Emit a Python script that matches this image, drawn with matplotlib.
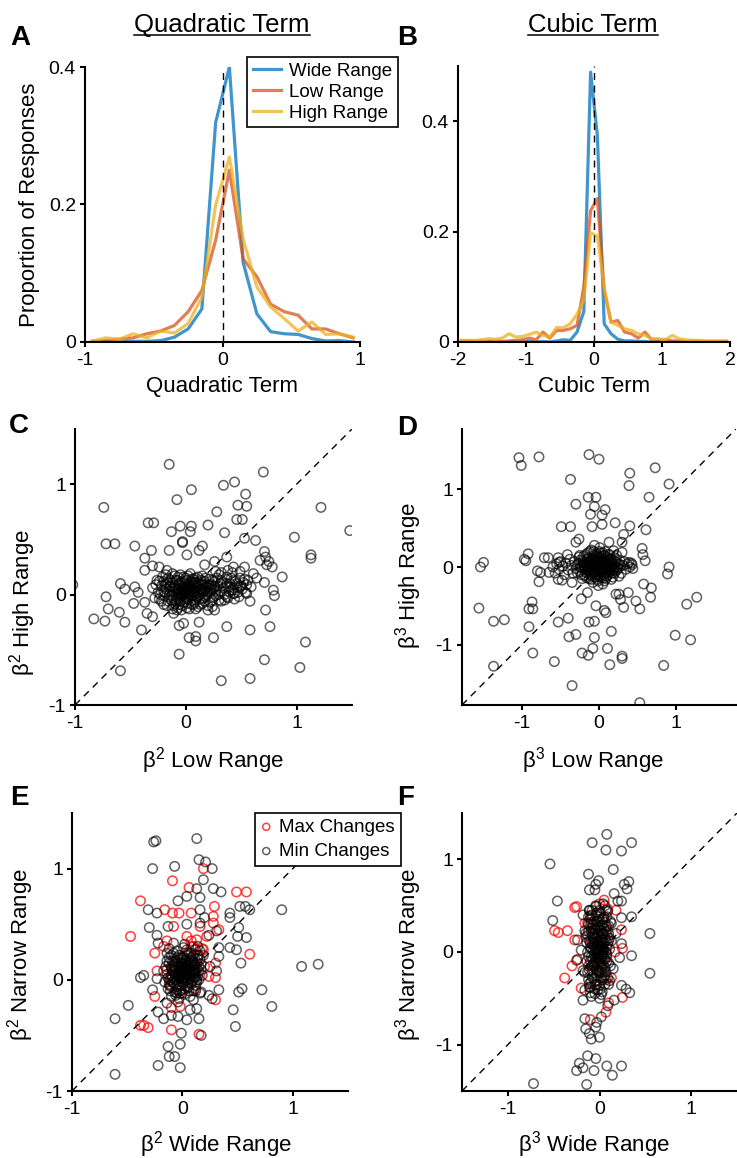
import numpy as np
import matplotlib
matplotlib.use("Agg")
import matplotlib.pyplot as plt
from matplotlib.lines import Line2D

params = {'font.family': ['Liberation Sans', 'DejaVu Sans'],
          'mathtext.fontset': 'custom',
          'mathtext.rm': 'Liberation Sans',
          'mathtext.it': 'Liberation Sans:italic',
          'axes.linewidth': 1.5,
          'xtick.labelsize': 14,
          'ytick.labelsize': 14,
          'xtick.direction': 'out',
          'ytick.direction': 'out',
          'xtick.major.size': 3.5,
          'ytick.major.size': 3.5,
          'xtick.major.width': 1.5,
          'ytick.major.width': 1.5,
          'xtick.major.pad': 4,
          'ytick.major.pad': 3,
          'axes.labelsize': 16}
plt.rcParams.update(params)

# ---- histogram data (proportion of responses per bin) ----
quad_bins = [-0.95, -0.85, -0.75, -0.65, -0.55, -0.45, -0.35, -0.25, -0.15, -0.05,
             0.05, 0.15, 0.25, 0.35, 0.45, 0.55, 0.65, 0.75, 0.85, 0.95]
quad_wide = [0.0, 0.001, 0.0, 0.001, 0.001, 0.002, 0.007, 0.019, 0.048, 0.319,
             0.40, 0.116, 0.041, 0.015, 0.012, 0.011, 0.005, 0.0015, 0.002, 0.0]
quad_low = [0.001, 0.002, 0.004, 0.006, 0.012, 0.016, 0.024, 0.044, 0.075, 0.148,
            0.25, 0.121, 0.095, 0.055, 0.044, 0.039, 0.019, 0.019, 0.012, 0.006]
quad_high = [0.001, 0.006, 0.004, 0.012, 0.006, 0.016, 0.013, 0.027, 0.065, 0.199,
             0.269, 0.150, 0.080, 0.051, 0.034, 0.016, 0.029, 0.011, 0.012, 0.007]

cub_bins = [-1.95, -1.85, -1.75, -1.65, -1.55, -1.45, -1.35, -1.25, -1.15, -1.05,
            -0.95, -0.85, -0.75, -0.65, -0.55, -0.45, -0.35, -0.25, -0.15, -0.05,
            0.05, 0.15, 0.25, 0.35, 0.45, 0.55, 0.65, 0.75, 0.85, 0.95,
            1.05, 1.15, 1.25, 1.35, 1.45, 1.55, 1.65, 1.75, 1.85, 1.95]
cub_wide = [0.0, 0.0, 0.0, 0.0, 0.001, 0.0, 0.0, 0.0, 0.0, 0.0,
            0.001, 0.0, 0.001, 0.0, 0.002, 0.004, 0.003, 0.018, 0.055, 0.489,
            0.373, 0.033, 0.015, 0.005, 0.002, 0.002, 0.001, 0.001, 0.0, 0.001,
            0.0, 0.0, 0.0, 0.0, 0.0, 0.0, 0.0, 0.0, 0.0, 0.0]
cub_low = [0.002, 0.002, 0.001, 0.002, 0.001, 0.002, 0.001, 0.002, 0.003, 0.004,
           0.007, 0.004, 0.018, 0.007, 0.021, 0.021, 0.024, 0.030, 0.100, 0.238,
           0.260, 0.094, 0.036, 0.039, 0.018, 0.015, 0.007, 0.018, 0.004, 0.003,
           0.004, 0.002, 0.002, 0.001, 0.002, 0.001, 0.001, 0.001, 0.001, 0.001]
cub_high = [0.003, 0.003, 0.003, 0.004, 0.006, 0.005, 0.007, 0.015, 0.009, 0.010,
            0.014, 0.018, 0.012, 0.009, 0.026, 0.026, 0.033, 0.050, 0.076, 0.198,
            0.192, 0.097, 0.036, 0.030, 0.024, 0.021, 0.015, 0.012, 0.006, 0.006,
            0.004, 0.012, 0.006, 0.004, 0.003, 0.003, 0.002, 0.002, 0.002, 0.002]

# ---- scatter data: (x, y) per neuron ----
c_pts = [(-0.15, 1.18), (0.70, 1.11), (-0.74, 0.79), (0.05, 0.95), (-0.08, 0.86), (0.34, 0.99),
         (0.44, 1.02), (0.54, 0.91), (0.47, 0.81), (0.55, 0.80), (1.22, 0.79), (1.48, 0.58),
         (0.98, 0.52), (1.13, 0.36), (1.13, 0.33), (0.28, 0.75), (0.20, 0.63), (0.35, 0.56),
         (0.46, 0.68), (0.51, 0.68), (0.53, 0.51), (0.63, 0.49), (0.05, 0.62), (0.04, 0.57),
         (-0.05, 0.62), (-0.13, 0.57), (-0.34, 0.65), (-0.29, 0.65), (-0.72, 0.46), (-0.64, 0.46),
         (-0.46, 0.44), (-0.03, 0.47), (-0.03, 0.48), (0.15, 0.44), (0.12, 0.40), (-0.15, 0.40),
         (-0.31, 0.40), (-0.37, 0.33), (-0.30, 0.26), (-0.37, 0.22), (0.01, 0.36), (0.26, 0.30),
         (0.37, 0.34), (0.71, 0.39), (0.72, 0.34), (0.75, 0.30), (0.67, 0.31), (0.73, 0.27),
         (0.78, 0.25), (0.87, 0.16), (0.79, 0.04), (0.80, -0.01), (0.71, 0.11), (0.72, -0.14),
         (0.58, -0.06), (-1.02, 0.09), (-0.59, 0.10), (-0.55, 0.05), (-0.72, -0.02), (-0.70, -0.13),
         (-0.83, -0.22), (-0.73, -0.24), (-0.60, -0.16), (-0.55, -0.25), (-0.59, -0.69), (-0.40, -0.32),
         (-0.06, -0.54), (0.03, -0.39), (0.09, -0.38), (0.09, -0.42), (0.25, -0.39), (0.12, -0.25),
         (0.37, -0.29), (0.58, -0.32), (0.76, -0.29), (0.71, -0.59), (0.32, -0.78), (0.58, -0.76),
         (1.03, -0.66), (1.08, -0.43), (-0.06, -0.28), (-0.02, -0.26), (-0.11, -0.17), (0.20, -0.14),
         (0.26, -0.14), (-0.46, 0.07), (-0.43, 0.02), (-0.47, -0.08), (-0.37, -0.07), (-0.35, -0.17),
         (-0.30, -0.20), (-0.24, 0.25), (-0.24, 0.12), (-0.17, 0.22), (0.17, 0.27), (0.27, 0.21),
         (0.38, 0.22), (0.43, 0.25), (0.49, 0.21), (0.53, 0.25), (0.61, 0.19), (0.56, 0.13),
         (0.59, 0.07), (0.49, 0.07), (0.43, 0.01), (0.37, -0.02), (0.30, -0.05), (0.24, -0.11),
         (0.43, 0.13), (0.32, 0.13), (0.23, 0.08), (0.40, 0.07), (0.64, 0.15), (0.55, 0.01),
         (-0.25, 0.02), (-0.22, 0.08), (-0.22, -0.06), (-0.20, 0.12), (-0.19, -0.01), (-0.18, 0.05),
         (-0.17, -0.10), (-0.16, 0.15), (-0.15, 0.00), (-0.14, 0.08), (-0.13, -0.05), (-0.12, 0.11),
         (-0.12, -0.13), (-0.11, 0.03), (-0.10, 0.17), (-0.10, -0.08), (-0.09, 0.06), (-0.08, -0.02),
         (-0.08, 0.13), (-0.07, -0.12), (-0.06, 0.02), (-0.06, 0.09), (-0.05, -0.06), (-0.05, 0.18),
         (-0.04, 0.04), (-0.03, -0.10), (-0.03, 0.12), (-0.02, 0.00), (-0.02, 0.07), (-0.01, -0.04),
         (0.00, 0.03), (0.00, 0.15), (0.01, -0.08), (0.01, 0.10), (0.02, 0.01), (0.03, -0.13),
         (0.03, 0.06), (0.04, 0.19), (0.05, -0.03), (0.05, 0.12), (0.06, 0.04), (0.07, -0.09),
         (0.07, 0.08), (0.08, 0.00), (0.09, 0.15), (0.09, -0.05), (0.10, 0.06), (0.11, -0.11),
         (0.11, 0.11), (0.12, 0.02), (0.13, -0.04), (0.14, 0.09), (0.15, 0.17), (0.15, -0.08),
         (0.16, 0.03), (0.17, 0.12), (0.18, -0.02), (0.19, 0.07), (0.20, -0.10), (0.21, 0.14),
         (0.22, 0.02), (0.23, 0.09), (0.24, -0.05), (0.25, 0.05), (0.26, 0.12), (0.27, -0.01),
         (0.29, 0.08), (0.30, 0.18), (0.31, 0.03), (0.32, -0.06), (0.33, 0.11), (0.35, 0.00),
         (0.36, 0.07), (0.37, 0.16), (0.38, -0.03), (0.40, 0.10), (0.41, 0.04), (0.42, 0.20),
         (0.44, 0.01), (0.45, 0.12), (0.46, 0.07), (0.48, -0.02), (0.49, 0.15), (0.51, 0.05),
         (0.52, 0.11), (0.54, 0.02), (0.55, 0.09), (-0.30, 0.06), (-0.28, -0.03), (-0.26, 0.13),
         (-0.01, 0.01), (0.02, 0.05), (-0.04, -0.01), (0.04, 0.00), (-0.07, 0.05), (0.06, -0.01),
         (0.00, -0.02), (-0.02, 0.04), (0.03, 0.02), (0.08, 0.04), (-0.09, 0.00), (0.10, 0.01),
         (-0.05, 0.08), (0.05, 0.07), (-0.11, -0.03), (0.12, -0.01), (-0.03, 0.06), (0.01, 0.13),
         (-0.06, -0.09), (0.07, 0.14), (-0.14, 0.03), (0.14, 0.04), (-0.18, 0.09), (0.18, 0.05),
         (-0.20, 0.03), (0.20, 0.03), (-0.08, -0.14), (0.09, -0.13), (-0.12, 0.06), (0.16, -0.03)]
c_dense = [(-0.27, 0.09), (-0.24, -0.04), (-0.21, 0.16), (-0.19, 0.02), (-0.17, 0.11), (-0.16, -0.06),
           (-0.14, 0.13), (-0.13, -0.01), (-0.12, 0.19), (-0.11, -0.10), (-0.10, 0.08), (-0.09, -0.06),
           (-0.08, 0.04), (-0.07, 0.16), (-0.06, -0.04), (-0.05, 0.11), (-0.04, -0.14), (-0.03, 0.02),
           (-0.02, 0.16), (-0.01, -0.07), (0.00, 0.08), (0.01, -0.12), (0.02, 0.17), (0.03, -0.02),
           (0.04, 0.09), (0.05, -0.09), (0.06, 0.14), (0.07, 0.02), (0.08, -0.07), (0.09, 0.11),
           (0.10, -0.02), (0.11, 0.16), (0.12, 0.07), (0.13, -0.09), (0.14, 0.13), (0.15, 0.02),
           (0.16, 0.09), (0.17, -0.06), (0.18, 0.15), (0.19, 0.00), (0.21, 0.08), (0.22, -0.07),
           (0.24, 0.13), (0.25, -0.02), (0.26, 0.07), (0.28, 0.15), (0.29, 0.00), (0.31, 0.10),
           (0.32, 0.20), (0.34, 0.06), (0.35, -0.05), (0.37, 0.10), (0.39, 0.03), (0.41, 0.15),
           (0.43, 0.06), (0.44, -0.04), (0.46, 0.10), (0.47, 0.02), (0.50, 0.08), (0.53, 0.14),
           (-0.23, 0.00), (-0.20, -0.09), (-0.18, 0.18), (-0.15, 0.07), (-0.09, 0.13), (-0.06, 0.05),
           (-0.01, 0.05), (0.02, -0.04), (0.06, 0.10), (0.10, 0.09), (0.13, 0.05), (0.17, 0.04),
           (0.20, 0.09), (0.23, 0.04), (-0.04, 0.00), (0.00, 0.06), (0.04, 0.03), (-0.07, 0.01),
           (0.08, 0.11), (0.27, 0.04)]

d_pts = [(-1.04, 1.41), (-1.01, 1.31), (-0.78, 1.42), (-0.13, 1.45), (0.00, 1.39), (0.73, 1.28),
         (0.40, 1.21), (0.39, 1.05), (0.91, 1.07), (-0.37, 1.13), (0.65, 0.90), (-0.14, 0.90),
         (-0.04, 0.90), (-0.30, 0.81), (-0.06, 0.78), (0.08, 0.74), (0.04, 0.67), (-0.11, 0.68),
         (0.21, 0.57), (0.04, 0.55), (-0.49, 0.52), (-0.37, 0.52), (-0.09, 0.52), (0.40, 0.53),
         (0.61, 0.48), (0.32, 0.42), (0.30, 0.32), (-0.26, 0.36), (-0.30, 0.32), (0.56, 0.24),
         (0.57, 0.16), (0.60, 0.08), (-0.92, 0.17), (-0.97, 0.10), (-0.95, 0.08), (-0.71, 0.12),
         (-0.66, 0.12), (-0.53, 0.12), (-1.50, 0.06), (-1.54, 0.00), (-1.56, -0.53), (-1.37, -0.70),
         (-1.23, -0.68), (-1.37, -1.28), (-0.86, -1.11), (-0.91, -0.77), (-0.87, -0.45), (-0.86, -0.54),
         (-0.91, -0.54), (-0.58, -1.22), (-0.35, -1.53), (0.53, -1.75), (-0.39, -0.90), (-0.40, -0.66),
         (-0.53, -0.71), (-0.30, -0.87), (-0.22, -1.11), (-0.14, -1.14), (-0.08, -1.05), (-0.06, -0.91),
         (-0.13, -0.71), (-0.06, -0.70), (0.11, -1.05), (0.14, -1.26), (0.16, -0.83), (0.09, -0.59),
         (0.07, -0.56), (0.30, -1.18), (0.30, -1.15), (0.84, -1.27), (0.99, -0.88), (1.19, -0.94),
         (1.14, -0.48), (1.27, -0.39), (0.91, 0.00), (0.89, -0.09), (0.58, -0.22), (0.68, -0.27),
         (0.67, -0.39), (0.48, -0.44), (0.53, -0.54), (0.32, -0.52), (0.28, -0.42), (0.22, -0.35),
         (0.38, -0.33), (0.26, -0.35), (-0.23, -0.41), (-0.15, -0.33), (-0.04, -0.50), (-0.35, -0.20),
         (-0.48, -0.17), (-0.53, -0.16), (-0.78, -0.19), (-0.76, -0.07), (-0.80, -0.05), (-0.65, -0.07),
         (-0.52, 0.06), (-0.41, 0.16), (0.43, 0.03), (0.39, 0.06), (0.30, 0.19), (0.19, 0.21),
         (0.13, 0.32),
         (-0.28, 0.03), (-0.25, -0.06), (-0.24, 0.09), (-0.22, -0.01), (-0.20, 0.14), (-0.19, -0.11),
         (-0.18, 0.05), (-0.16, -0.04), (-0.15, 0.18), (-0.14, 0.00), (-0.13, -0.15), (-0.12, 0.08),
         (-0.11, -0.07), (-0.10, 0.22), (-0.09, 0.03), (-0.08, -0.20), (-0.07, 0.12), (-0.06, -0.02),
         (-0.05, 0.06), (-0.04, -0.10), (-0.03, 0.17), (-0.02, 0.01), (-0.01, -0.24), (0.00, 0.09),
         (0.00, -0.05), (0.01, 0.25), (0.02, 0.02), (0.03, -0.13), (0.04, 0.14), (0.05, -0.03),
         (0.06, 0.06), (0.07, -0.18), (0.08, 0.20), (0.09, -0.06), (0.10, 0.04), (0.11, 0.11),
         (0.12, -0.10), (0.13, 0.00), (0.14, 0.16), (0.15, -0.04), (0.16, 0.07), (0.18, -0.13),
         (0.19, 0.03), (0.20, 0.12), (0.22, -0.05), (0.23, 0.06), (0.25, -0.01), (0.27, 0.09),
         (0.29, -0.08), (0.31, 0.02), (0.33, 0.07), (0.35, -0.03), (0.37, 0.04), (0.40, 0.00),
         (0.42, 0.05), (0.44, -0.02), (-0.30, -0.02), (-0.32, 0.07), (-0.34, -0.08), (-0.36, 0.02),
         (-0.38, 0.10), (-0.40, -0.04), (-0.43, 0.05), (-0.45, -0.10), (-0.47, 0.01), (-0.50, 0.07),
         (-0.52, -0.03), (-0.55, 0.04), (-0.57, -0.08), (-0.60, 0.00), (-0.01, 0.02), (0.01, -0.01),
         (-0.03, -0.03), (0.03, 0.03), (0.00, 0.00), (-0.05, 0.02), (0.05, 0.01), (-0.02, 0.05),
         (0.02, -0.06), (-0.06, -0.06), (0.06, -0.09), (-0.08, 0.08), (0.08, 0.09), (-0.10, -0.01),
         (0.10, -0.02), (-0.04, 0.10), (0.04, -0.08), (-0.07, 0.15), (0.07, 0.15), (-0.12, 0.02),
         (0.12, 0.05), (-0.09, -0.12), (0.09, -0.15), (-0.15, 0.10), (0.15, 0.10), (-0.17, -0.07),
         (0.17, -0.08), (-0.02, -0.16), (0.02, 0.18), (-0.06, 0.28), (0.05, -0.22), (0.00, 0.13),
         (-0.11, 0.05), (0.11, 0.00), (-0.14, -0.03), (0.14, -0.01), (-0.20, 0.02), (0.21, 0.00),
         (-0.26, 0.13), (0.26, -0.12)]
d_dense = [(-0.26, 0.05), (-0.23, -0.10), (-0.21, 0.08), (-0.19, 0.00), (-0.17, 0.16), (-0.16, -0.14),
           (-0.14, 0.06), (-0.13, -0.05), (-0.12, 0.20), (-0.11, 0.01), (-0.10, -0.16), (-0.09, 0.10),
           (-0.08, -0.05), (-0.07, 0.20), (-0.06, 0.04), (-0.05, -0.13), (-0.04, 0.14), (-0.03, -0.06),
           (-0.02, 0.09), (-0.01, -0.18), (0.00, 0.20), (0.01, 0.04), (0.02, -0.11), (0.03, 0.11),
           (0.04, 0.00), (0.05, 0.18), (0.06, -0.14), (0.07, 0.05), (0.08, -0.03), (0.09, 0.13),
           (0.10, -0.12), (0.11, 0.06), (0.12, 0.16), (0.13, -0.07), (0.14, 0.04), (0.16, -0.16),
           (0.17, 0.10), (0.18, 0.00), (0.20, -0.08), (0.21, 0.07), (0.23, 0.15), (0.24, -0.03),
           (0.26, 0.04), (-0.28, -0.08), (-0.25, 0.15), (-0.22, -0.15), (-0.20, 0.06), (-0.18, -0.02),
           (-0.15, 0.03), (0.16, 0.01), (-0.03, 0.03), (0.03, -0.03), (-0.01, 0.07), (0.01, -0.07),
           (0.06, 0.03), (-0.06, -0.02), (0.00, 0.04), (-0.04, 0.02), (0.04, 0.07), (0.02, 0.12),
           (-0.02, -0.09), (-0.09, 0.05), (0.09, 0.02), (-0.11, -0.10), (0.11, -0.06), (-0.13, 0.12),
           (0.13, 0.09), (0.19, -0.04), (-0.24, 0.00), (0.28, 0.02)]

e_min = [(-0.26, 1.24), (-0.24, 1.25), (0.13, 1.27), (0.15, 1.08), (0.21, 1.06), (-0.07, 1.02),
         (-0.27, 1.00), (0.27, 1.00), (0.19, 0.90), (0.13, 0.82), (0.28, 0.82), (0.35, 0.79),
         (0.16, 0.74), (0.04, 0.75), (-0.04, 0.71), (-0.31, 0.63), (-0.23, 0.60), (0.43, 0.60),
         (0.43, 0.56), (0.52, 0.66), (0.57, 0.66), (0.61, 0.63), (0.90, 0.63), (0.51, 0.47),
         (0.50, 0.39), (0.58, 0.38), (0.43, 0.29), (0.49, 0.27), (0.53, 0.15), (0.33, 0.21),
         (1.08, 0.12), (1.23, 0.14), (-0.30, 0.47), (-0.23, 0.40), (-0.22, 0.33), (-0.13, 0.48),
         (-0.38, 0.02), (-0.35, 0.04), (-0.23, 0.01), (-0.27, -0.09), (0.33, -0.09), (0.24, -0.14),
         (0.27, -0.17), (0.51, -0.11), (0.54, -0.08), (0.72, -0.09), (0.81, -0.24), (0.46, -0.27),
         (0.48, -0.42), (-0.49, -0.23), (-0.61, -0.35), (-0.61, -0.85), (-0.22, -0.77), (-0.02, -0.79),
         (-0.13, -0.60), (-0.07, -0.69), (-0.12, -0.69), (-0.02, -0.58), (-0.01, -0.48), (0.17, -0.50),
         (0.15, -0.35), (0.04, -0.36), (-0.04, -0.33), (-0.10, -0.32), (-0.17, -0.35), (-0.22, -0.29),
         (-0.14, -0.21), (0.13, -0.26), (0.07, -0.27), (0.17, -0.11), (0.31, 0.08), (0.25, 0.12),
         (0.33, 0.29), (0.31, 0.44), (0.24, 0.40), (0.16, 0.51), (0.04, 0.50), (-0.14, 0.24),
         (-0.08, 0.33), (0.16, 0.63), (0.20, 0.56),
         (-0.14, 0.05), (-0.13, -0.08), (-0.12, 0.15), (-0.11, 0.00), (-0.10, 0.22), (-0.10, -0.15),
         (-0.09, 0.09), (-0.08, -0.03), (-0.07, 0.17), (-0.07, -0.11), (-0.06, 0.04), (-0.05, 0.26),
         (-0.05, -0.06), (-0.04, 0.12), (-0.03, -0.17), (-0.03, 0.01), (-0.02, 0.20), (-0.01, 0.07),
         (-0.01, -0.09), (0.00, 0.14), (0.00, -0.02), (0.01, 0.29), (0.02, 0.05), (0.02, -0.13),
         (0.03, 0.18), (0.04, 0.00), (0.04, 0.10), (0.05, -0.07), (0.06, 0.24), (0.06, 0.03),
         (0.07, 0.13), (0.08, -0.04), (0.08, 0.20), (0.09, 0.07), (0.10, -0.10), (0.10, 0.15),
         (0.11, 0.02), (0.12, 0.27), (0.12, -0.05), (0.13, 0.10), (0.14, 0.19), (0.15, 0.00),
         (0.15, 0.08), (0.16, -0.12), (0.17, 0.14), (0.18, 0.04), (-0.15, 0.12), (-0.16, -0.02),
         (-0.17, 0.08), (0.19, 0.22), (-0.02, 0.03), (0.02, 0.08), (0.00, 0.05), (0.03, 0.02),
         (-0.04, 0.06), (0.05, 0.11), (0.01, -0.03), (0.06, 0.06), (-0.06, 0.10), (0.07, 0.01),
         (-0.01, 0.16), (0.09, 0.12), (0.03, -0.06), (-0.08, 0.13), (0.11, 0.09), (0.04, 0.22),
         (-0.03, 0.09), (0.08, 0.04), (0.00, 0.10), (0.05, 0.16), (-0.09, 0.02), (0.12, 0.06),
         (-0.05, -0.12), (0.07, -0.15), (0.02, 0.32), (-0.12, 0.28), (0.14, 0.30), (-0.04, -0.20),
         (0.10, -0.18), (0.16, 0.18), (-0.11, -0.05), (0.13, -0.02), (0.01, 0.12), (-0.02, -0.05),
         (0.04, 0.05), (0.07, 0.18), (-0.07, 0.06), (0.10, 0.03), (0.02, 0.15), (-0.05, 0.00)]
e_dense = [(-0.13, 0.02), (-0.12, 0.20), (-0.11, -0.10), (-0.10, 0.12), (-0.09, -0.02), (-0.08, 0.24),
           (-0.07, 0.00), (-0.06, 0.17), (-0.05, -0.09), (-0.04, 0.03), (-0.03, 0.22), (-0.02, -0.10),
           (-0.01, 0.12), (0.00, 0.01), (0.01, 0.20), (0.02, -0.08), (0.03, 0.08), (0.04, 0.27),
           (0.05, 0.03), (0.06, -0.10), (0.07, 0.09), (0.08, 0.16), (0.09, -0.01), (0.10, 0.22),
           (0.11, 0.06), (0.12, -0.10), (0.13, 0.15), (0.14, 0.04), (0.15, 0.12), (0.16, 0.26),
           (-0.14, 0.17), (-0.12, -0.04), (-0.08, 0.07), (-0.03, 0.15), (0.01, 0.02), (0.05, 0.14),
           (0.09, 0.18), (0.13, 0.00), (0.17, 0.09), (-0.06, -0.14), (0.02, 0.11), (-0.01, 0.04),
           (0.03, -0.01), (0.06, 0.09), (-0.03, 0.05), (0.00, 0.18), (0.07, 0.04), (0.11, 0.13),
           (-0.10, 0.04), (0.04, 0.14), (-0.05, 0.20), (0.08, 0.24), (0.00, -0.12), (-0.09, 0.16),
           (0.14, 0.22), (0.12, 0.02), (-0.02, 0.08), (0.05, -0.03), (0.09, 0.07), (-0.07, 0.11)]

e_max = [(-0.09, 0.89), (0.19, 1.00), (0.06, 0.83), (-0.38, 0.71), (-0.16, 0.63), (-0.09, 0.60),
         (-0.03, 0.60), (0.08, 0.60), (0.29, 0.66), (0.28, 0.57), (0.49, 0.79), (0.58, 0.79),
         (-0.47, 0.39), (-0.08, 0.48), (0.16, 0.48), (0.33, 0.45), (0.28, 0.51), (0.61, 0.23),
         (-0.25, 0.24), (-0.17, 0.30), (-0.14, 0.35), (-0.23, 0.08), (-0.25, -0.15), (0.30, -0.18),
         (0.30, 0.02), (0.30, 0.15), (-0.38, -0.41), (-0.35, -0.41), (-0.31, -0.43), (-0.10, -0.45),
         (0.15, -0.49), (-0.10, -0.25), (-0.02, -0.24), (0.19, 0.27), (0.13, 0.36), (0.22, 0.39),
         (0.04, 0.39), (0.08, 0.30), (0.11, 0.09), (0.24, 0.03), (-0.11, -0.06), (-0.14, 0.09),
         (0.00, 0.20), (0.05, 0.25), (-0.05, 0.15), (0.10, 0.30), (0.15, 0.22), (-0.10, 0.10),
         (0.12, -0.08), (-0.02, -0.12), (0.20, 0.12), (0.08, 0.35), (-0.12, 0.00), (0.18, 0.28)]

f_min = [(0.08, 1.27), (-0.08, 1.18), (0.35, 1.18), (0.07, 1.10), (0.24, 1.09), (-0.54, 0.95),
         (0.15, 0.89), (-0.12, 0.84), (-0.01, 0.77), (-0.04, 0.73), (-0.11, 0.67), (-0.05, 0.67),
         (0.32, 0.76), (0.27, 0.73), (0.30, 0.68), (0.16, 0.63), (0.20, 0.55), (0.24, 0.55),
         (-0.46, 0.55), (-0.51, 0.34), (0.35, 0.38), (0.24, 0.37), (0.55, 0.20), (0.55, -0.23),
         (0.35, -0.04), (0.22, -0.06), (0.24, -0.36), (0.29, -0.40), (0.33, -0.44), (0.16, -0.52),
         (0.09, -0.58), (-0.18, -0.52), (0.00, -0.50), (-0.16, -0.72), (0.02, -0.70), (-0.03, -0.76),
         (-0.04, -0.81), (-0.15, -0.83), (-0.11, -0.88), (0.00, -0.92), (-0.09, -0.94), (-0.13, -1.12),
         (-0.04, -1.15), (-0.22, -1.20), (-0.18, -1.25), (-0.25, -1.28), (-0.06, -1.28), (0.08, -1.23),
         (0.24, -1.23), (0.14, -1.33), (-0.14, -1.43), (-0.72, -1.42), (-0.20, 0.02), (-0.24, 0.13),
         (-0.25, -0.09), (-0.18, -0.20), (0.24, 0.09), (0.18, 0.20), (0.13, 0.31), (0.04, 0.52),
         (-0.04, 0.49), (-0.11, 0.45), (-0.18, 0.40), (-0.16, 0.23), (-0.16, -0.41), (-0.11, -0.34),
         (0.11, -0.31), (0.15, -0.18),
         (-0.12, 0.30), (-0.11, -0.20), (-0.10, 0.10), (-0.10, -0.38), (-0.09, 0.22), (-0.09, -0.05),
         (-0.08, 0.40), (-0.08, -0.27), (-0.07, 0.02), (-0.07, 0.15), (-0.06, -0.12), (-0.06, 0.33),
         (-0.05, -0.32), (-0.05, 0.07), (-0.04, 0.25), (-0.04, -0.18), (-0.03, -0.02), (-0.03, 0.42),
         (-0.02, 0.12), (-0.02, -0.41), (-0.01, 0.19), (-0.01, -0.08), (0.00, 0.35), (0.00, 0.03),
         (0.01, -0.22), (0.01, 0.28), (0.02, -0.03), (0.02, 0.10), (0.03, -0.30), (0.03, 0.20),
         (0.04, 0.05), (0.04, -0.14), (0.05, 0.38), (0.05, -0.06), (0.06, 0.15), (0.06, -0.25),
         (0.07, 0.00), (0.08, 0.27), (0.08, -0.10), (0.09, 0.09), (-0.13, 0.00), (-0.13, 0.18),
         (-0.14, -0.10), (0.10, -0.35), (0.10, 0.20), (-0.11, 0.45), (0.09, 0.44), (-0.12, -0.30),
         (0.11, 0.03), (-0.05, -0.45), (-0.02, 0.00), (0.00, -0.02), (-0.03, 0.05), (0.01, 0.06),
         (-0.04, -0.06), (0.02, -0.10), (-0.01, 0.10), (-0.05, 0.14), (0.03, 0.13), (-0.06, -0.02),
         (0.04, -0.04), (-0.02, -0.13), (0.00, 0.17), (-0.07, 0.08), (0.05, 0.02), (-0.03, -0.20),
         (0.02, 0.23), (-0.08, -0.15), (0.06, -0.17), (-0.04, 0.30), (0.01, -0.28), (-0.09, 0.26),
         (0.07, 0.22), (-0.01, 0.38), (0.00, -0.36), (-0.06, 0.20), (0.03, -0.22), (-0.10, 0.05),
         (0.08, 0.06), (-0.02, 0.27), (0.12, -0.15), (-0.15, 0.20), (0.13, 0.12), (-0.16, -0.22),
         (0.12, 0.33), (-0.04, 0.50), (0.02, -0.46), (-0.09, -0.48), (0.06, 0.50), (-0.12, 0.38)]
f_dense = [(-0.11, 0.12), (-0.10, -0.10), (-0.10, 0.36), (-0.09, -0.32), (-0.09, 0.04), (-0.08, 0.19),
           (-0.08, -0.20), (-0.07, 0.30), (-0.07, -0.07), (-0.06, 0.10), (-0.06, -0.28), (-0.05, 0.25),
           (-0.05, -0.15), (-0.04, 0.40), (-0.04, 0.01), (-0.03, -0.35), (-0.03, 0.16), (-0.02, -0.05),
           (-0.02, 0.33), (-0.01, -0.22), (-0.01, 0.04), (0.00, 0.24), (0.00, -0.12), (0.01, 0.42),
           (0.01, -0.40), (0.02, 0.06), (0.02, 0.16), (0.03, -0.17), (0.03, 0.29), (0.04, -0.01),
           (0.04, 0.20), (0.05, -0.28), (0.05, 0.10), (0.06, 0.32), (0.06, -0.08), (0.07, 0.13),
           (0.07, -0.21), (0.08, 0.38), (0.08, -0.02), (0.09, -0.28), (-0.12, -0.05), (-0.12, 0.22),
           (-0.13, -0.22), (-0.11, -0.38), (0.10, 0.28), (0.10, -0.12), (-0.14, 0.10), (0.11, 0.15),
           (-0.05, 0.03), (-0.01, -0.01), (-0.03, 0.08), (0.00, 0.07), (-0.04, -0.10), (0.02, -0.06),
           (-0.06, 0.16), (0.03, 0.03), (-0.02, 0.20), (0.01, -0.15), (-0.07, -0.14), (0.05, 0.25),
           (-0.08, 0.45), (0.03, -0.43), (-0.10, -0.44), (0.07, 0.45), (-0.03, -0.26), (0.04, 0.36),
           (-0.09, 0.32), (0.06, -0.35), (-0.05, -0.40), (0.00, 0.45)]

f_max = [(-0.25, 0.49), (-0.27, 0.48), (0.05, 0.56), (0.00, 0.52), (0.18, 0.45), (0.09, 0.46),
         (-0.10, 0.39), (-0.16, 0.31), (-0.49, 0.23), (-0.45, 0.21), (-0.35, 0.23), (-0.27, 0.13),
         (0.24, 0.24), (0.25, 0.04), (0.17, 0.00), (-0.30, -0.15), (-0.38, -0.28), (-0.20, -0.39),
         (0.13, -0.28), (0.25, -0.49), (0.07, -0.65), (0.10, -0.55), (-0.10, -0.73), (-0.24, -0.08),
         (-0.15, 0.16), (0.04, 0.02), (-0.04, -0.13), (0.07, 0.27), (-0.13, 0.31),
         (0.05, 0.20), (-0.08, 0.10), (0.00, -0.20), (0.08, -0.05), (-0.10, 0.30), (0.03, 0.35),
         (-0.05, -0.35), (0.10, 0.12), (-0.12, -0.15), (0.07, -0.30)]

blue, orange, yellow = '#0072BD', '#D95319', '#EDB120'
ring = (0, 0, 0, 0.62)
red_ring = (1, 0, 0, 0.75)
W, H = 737, 1158

fig = plt.figure(figsize=(W / 100, H / 100), dpi=100)


def add_ax(l, t, r, b):
    return fig.add_axes([l / W, 1 - b / H, (r - l) / W, (b - t) / H])


def clean(ax, lim_x, lim_y, ticks_x, ticks_y):
    ax.spines['top'].set_visible(False)
    ax.spines['right'].set_visible(False)
    ax.set_xlim(lim_x)
    ax.set_ylim(lim_y)
    ax.set_xticks(ticks_x)
    ax.set_yticks(ticks_y)
    ax.set_xticklabels([f"{t:g}" for t in ticks_x])
    ax.set_yticklabels([f"{t:g}" for t in ticks_y])


def scatter_panel(ax, pts, color=ring, label=None):
    x, y = np.array(pts).T
    ax.scatter(x, y, s=46, facecolors='none', edgecolors=[color], linewidths=1.1, label=label)


def diag(ax, lo, hi):
    ax.plot([lo, hi], [lo, hi], color='k', lw=1, dashes=(5, 4))


legend_kw = dict(bbox_transform=fig.transFigure, loc='upper left', fontsize=13.5, fancybox=False,
                 edgecolor='k', framealpha=1, borderpad=0.3, borderaxespad=0)

# A: quadratic histograms
axA = add_ax(85, 67, 360, 342)
axA.plot(quad_bins, quad_wide, color=blue, lw=2.3, alpha=0.75, label='Wide Range')
axA.plot(quad_bins, quad_low, color=orange, lw=2.3, alpha=0.75, label='Low Range')
axA.plot(quad_bins, quad_high, color=yellow, lw=2.3, alpha=0.75, label='High Range')
axA.plot([0, 0], [0, 0.4], color='k', lw=1, dashes=(5, 4))
clean(axA, (-1, 1), (0, 0.4), [-1, 0, 1], [0, 0.2, 0.4])
axA.set_xlabel('Quadratic Term')
axA.set_ylabel('Proportion of Responses')
axA.xaxis.set_label_coords(0.5, -0.125)
axA.yaxis.set_label_coords(-0.165, 0.5)
leg = axA.legend(bbox_to_anchor=(247 / W, 1 - 57 / H), labelspacing=0.2, handlelength=1.5,
                 handletextpad=0.45, **legend_kw)
leg.get_frame().set_linewidth(1.2)

# B: cubic histograms
axB = add_ax(458, 66, 730, 342)
axB.plot(cub_bins, cub_wide, color=blue, lw=2.3, alpha=0.75)
axB.plot(cub_bins, cub_low, color=orange, lw=2.3, alpha=0.75)
axB.plot(cub_bins, cub_high, color=yellow, lw=2.3, alpha=0.75)
axB.plot([0, 0], [0, 0.5], color='k', lw=1, dashes=(5, 4))
clean(axB, (-2, 2), (0, 0.5), [-2, -1, 0, 1, 2], [0, 0.2, 0.4])
axB.set_xlabel('Cubic Term')
axB.xaxis.set_label_coords(0.5, -0.125)

# C: quadratic low vs high
axC = add_ax(75, 429, 352, 705)
scatter_panel(axC, c_pts + c_dense)
diag(axC, -1, 1.5)
clean(axC, (-1, 1.5), (-1, 1.5), [-1, 0, 1], [-1, 0, 1])
axC.set_xlabel('β$^2$ Low Range')
axC.set_ylabel('β$^2$ High Range')
axC.xaxis.set_label_coords(0.5, -0.145)
axC.yaxis.set_label_coords(-0.135, 0.37)

# D: cubic low vs high
axD = add_ax(462, 429, 736, 705)
scatter_panel(axD, d_pts + d_dense)
diag(axD, -1.78, 1.78)
clean(axD, (-1.78, 1.78), (-1.78, 1.78), [-1, 0, 1], [-1, 0, 1])
axD.set_xlabel('β$^3$ Low Range')
axD.set_ylabel('β$^3$ High Range')
axD.xaxis.set_label_coords(0.48, -0.145)
axD.yaxis.set_label_coords(-0.138, 0.47)

# E: quadratic wide vs narrow
axE = add_ax(72, 813, 348, 1091)
scatter_panel(axE, e_max, color=red_ring, label='Max Changes')
scatter_panel(axE, e_min + e_dense, label='Min Changes')
diag(axE, -1, 1.5)
clean(axE, (-1, 1.5), (-1, 1.5), [-1, 0, 1], [-1, 0, 1])
axE.set_xlabel('β$^2$ Wide Range')
axE.set_ylabel('β$^2$ Narrow Range')
axE.xaxis.set_label_coords(0.52, -0.137)
axE.yaxis.set_label_coords(-0.13, 0.49)
leg2 = axE.legend(bbox_to_anchor=(255 / W, 1 - 813 / H), labelspacing=0.38, handlelength=0.6,
                  handletextpad=0.4, scatterpoints=1, markerscale=0.75, **legend_kw)
leg2.get_frame().set_linewidth(1.2)

# F: cubic wide vs narrow
axF = add_ax(462, 813, 737, 1091)
scatter_panel(axF, f_max, color=red_ring)
scatter_panel(axF, f_min + f_dense)
diag(axF, -1.5, 1.5)
clean(axF, (-1.5, 1.5), (-1.5, 1.5), [-1, 0, 1], [-1, 0, 1])
axF.set_xlabel('β$^3$ Wide Range')
axF.set_ylabel('β$^3$ Narrow Range')
axF.xaxis.set_label_coords(0.48, -0.137)
axF.yaxis.set_label_coords(-0.14, 0.49)

# column titles, underlined
for cx, txt in [(222, 'Quadratic Term'), (593, 'Cubic Term')]:
    t = fig.text(cx / W, 1 - 32 / H, txt, ha='center', va='baseline', fontsize=18.5)
    fig.canvas.draw()
    bb = t.get_window_extent(renderer=fig.canvas.get_renderer())
    fig.add_artist(Line2D([bb.x0 / W, bb.x1 / W], [1 - 35 / H, 1 - 35 / H], color='k', lw=1.1))

# panel letters
for lx, ly, letter in [(10, 45, 'A'), (397, 45, 'B'), (9, 433, 'C'),
                       (397, 435, 'D'), (10, 805, 'E'), (397, 805, 'F')]:
    fig.text(lx / W, 1 - ly / H, letter, fontsize=20, fontweight='bold', va='baseline', ha='left')

fig.savefig('out.png', dpi=100)
